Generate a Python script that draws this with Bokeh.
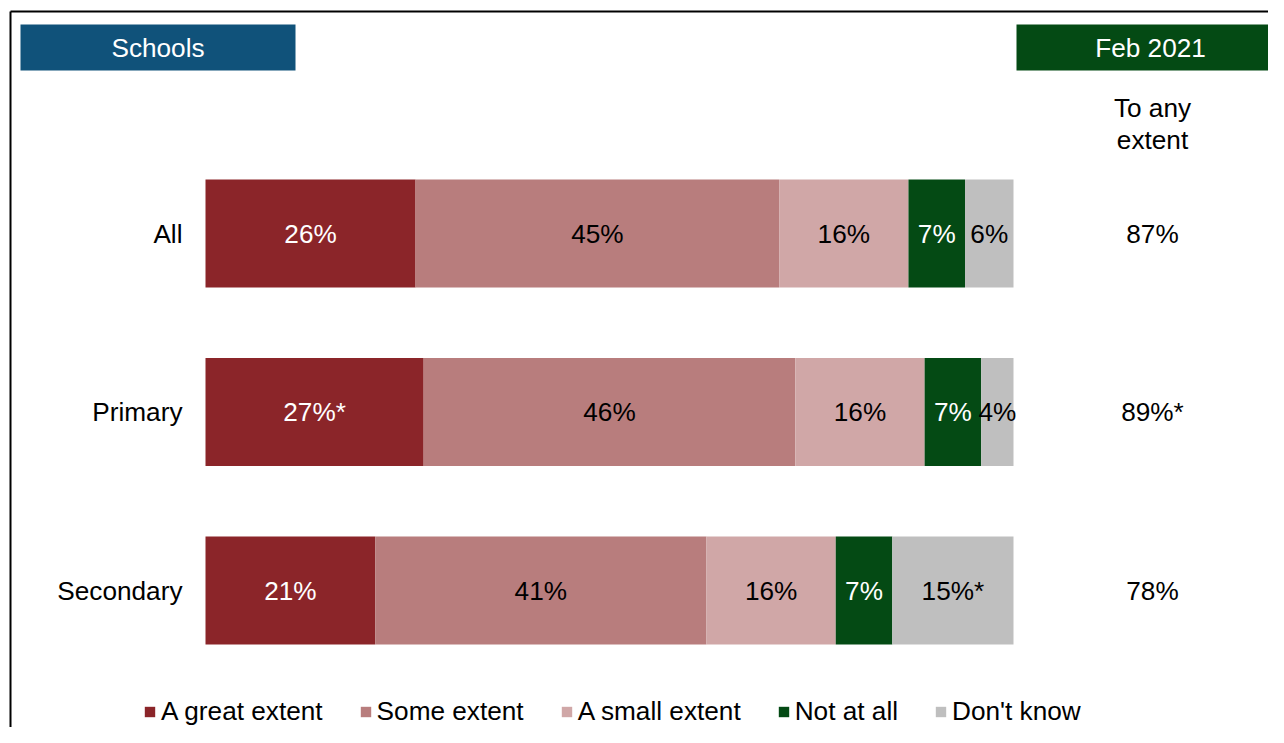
from bokeh.plotting import figure
from bokeh.models import Range1d, Legend, LegendItem, ColumnDataSource
from bokeh.core.properties import value
from bokeh.embed import file_html
from bokeh.resources import INLINE

# ---------------- data ----------------
categories = ["All", "Primary", "Secondary"]
series = ["A great extent", "Some extent", "A small extent", "Not at all", "Don't know"]
great_extent = [26, 27, 21]
some_extent = [45, 46, 41]
small_extent = [16, 16, 16]
not_at_all = [7, 7, 7]
dont_know = [6, 4, 15]
# significance markers shown after the value ("*")
great_sig = ["", "*", ""]
some_sig = ["", "", ""]
small_sig = ["", "", ""]
not_sig = ["", "", ""]
dk_sig = ["", "", "*"]
any_extent = [87, 89, 78]
any_sig = ["", "*", ""]
header_left = "Schools"
header_right = "Feb 2021"
total_title_lines = ["To any", "extent"]

# ---------------- style ----------------
colors = ["#8B2529", "#B87D7D", "#D0A7A7", "#044A14", "#BFBFBF"]
label_colors = ["white", "black", "black", "white", "black"]
FONT_NAME = "Liberation Sans"
FONT = value(FONT_NAME)
FS = "26.2px"

W, H = 1268, 727
BAR_X0, BAR_X1 = 205, 1013           # px of 0% and 100%
PX_PER_PCT = (BAR_X1 - BAR_X0) / 100.0
ROW_LAST_PY, ROW_STEP = 590, 178.5     # px of last row centre, px per row
BAR_H = 108 / ROW_STEP

n = len(categories)
ys = [n - i for i in range(n)]


def X(px):
    return (px - BAR_X0) / PX_PER_PCT


def Y(py):
    return ys[-1] + (ROW_LAST_PY - py) / ROW_STEP


p = figure(width=W, height=H,
           x_range=Range1d(X(0), X(W)),
           y_range=Range1d(Y(H), Y(0)),
           output_backend="svg", toolbar_location=None,
           x_axis_type=None, y_axis_type=None, min_border=0,
           outline_line_color=None)
p.grid.visible = False
p.background_fill_color = "white"
p.border_fill_color = "white"

# chart border (top and left visible)
p.segment(x0=[X(10), X(10)], y0=[Y(11), Y(11)], x1=[X(1300), X(10)], y1=[Y(11), Y(760)],
          line_color="black", line_width=2)

# header boxes
p.quad(left=[X(20)], right=[X(295)], top=[Y(24)], bottom=[Y(70)],
       fill_color="#10527A", line_color=None)
p.text(x=[X(157.5)], y=[Y(47)], text=[header_left], text_color="white",
       text_align="center", text_baseline="middle", text_font=FONT, text_font_size=FS)
p.quad(left=[X(1016)], right=[X(1300)], top=[Y(24)], bottom=[Y(70)],
       fill_color="#044A14", line_color=None)
p.text(x=[X(1150)], y=[Y(47)], text=[header_right], text_color="white",
       text_align="center", text_baseline="middle", text_font=FONT, text_font_size=FS)

# stacked bars
values = [great_extent, some_extent, small_extent, not_at_all, dont_know]
sigs = [great_sig, some_sig, small_sig, not_sig, dk_sig]
left = [0.0] * n
renderers = []
for j, (vals, sig) in enumerate(zip(values, sigs)):
    right = [l + v for l, v in zip(left, vals)]
    src = ColumnDataSource(dict(
        y=ys, left=left, right=right,
        mid=[(l + r) / 2 for l, r in zip(left, right)],
        lab=[f"{v}%{s}" for v, s in zip(vals, sig)],
    ))
    r = p.hbar(y="y", left="left", right="right", height=BAR_H, source=src,
               fill_color=colors[j], line_color=None)
    renderers.append(r)
    p.text(x="mid", y="y", text="lab", source=src, text_color=label_colors[j],
           text_align="center", text_baseline="middle", text_font=FONT, text_font_size=FS)
    left = right

# category labels
p.text(x=[X(182)] * n, y=ys, text=categories, text_color="black",
       text_align="right", text_baseline="middle", text_font=FONT, text_font_size=FS)

# "To any extent" column
tx = X(1152)
p.text(x=[tx, tx], y=[Y(107), Y(139)], text=total_title_lines, text_color="black",
       text_align="center", text_baseline="middle", text_font=FONT, text_font_size=FS)
p.text(x=[tx] * n, y=ys, text=[f"{v}%{s}" for v, s in zip(any_extent, any_sig)],
       text_color="black", text_align="center", text_baseline="middle",
       text_font=FONT, text_font_size=FS)

legend = Legend(items=[LegendItem(label=s, renderers=[r]) for s, r in zip(series, renderers)],
                orientation="horizontal", location=(143, 0),
                glyph_width=13, glyph_height=13, label_standoff=5, spacing=36,
                padding=0, margin=0, border_line_color=None, background_fill_alpha=0,
                label_text_font=FONT_NAME, label_text_font_size=FS, label_height=13,
                label_text_color="black")
p.add_layout(legend)

open("out.html", "w").write(file_html(p, INLINE))
